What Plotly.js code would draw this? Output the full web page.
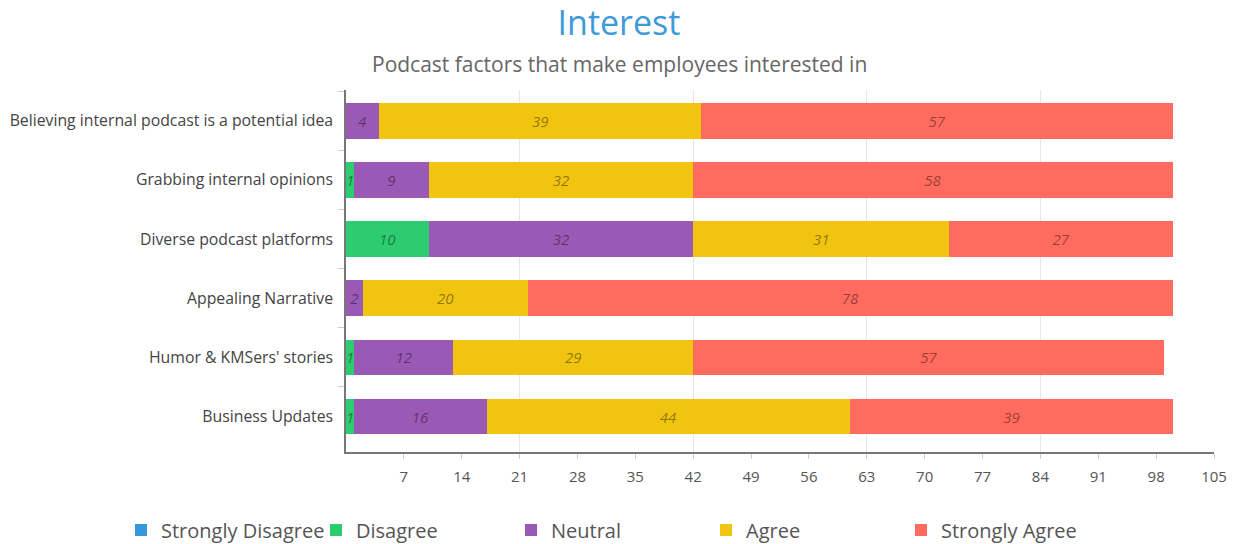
<!DOCTYPE html>
<html>
<head>
<meta charset="utf-8">
<script src="https://cdn.plot.ly/plotly-3.0.1.min.js"></script>
<style>html,body{margin:0;padding:0;background:#fff;}#chart{width:1243px;height:544px;}</style>
</head>
<body>
<div id="chart"></div>
<script>
const categories = [
  "Believing internal podcast is a potential idea",
  "Grabbing internal opinions",
  "Diverse podcast platforms",
  "Appealing Narrative",
  "Humor & KMSers' stories",
  "Business Updates"
];
const seriesNames = ["Strongly Disagree", "Disagree", "Neutral", "Agree", "Strongly Agree"];
const stronglyDisagree = [null, null, null, null, null, null];
const disagree = [null, 1, 10, null, 1, 1];
const neutral = [4, 9, 32, 2, 12, 16];
const agree = [39, 32, 31, 20, 29, 44];
const stronglyAgree = [57, 58, 27, 78, 57, 39];
const xTicks = [7, 14, 21, 28, 35, 42, 49, 56, 63, 70, 77, 84, 91, 98, 105];
const colors = ["#3498db", "#2ecc71", "#9b59b6", "#f1c40f", "#ff6b5e"];

const seriesValues = [stronglyDisagree, disagree, neutral, agree, stronglyAgree];
const traces = seriesValues.map((vals, i) => ({
  type: "bar",
  orientation: "h",
  name: seriesNames[i],
  y: categories,
  x: vals,
  marker: {color: colors[i]},
  text: vals.map(v => v == null ? "" : String(v)),
  textposition: "inside",
  insidetextanchor: "middle",
  textfont: {family: "Open Sans", size: 15, color: "rgba(0,0,0,0.42)", style: "italic"},
  hoverinfo: "x+name",
  cliponaxis: false
}));
// invisible trace for gridlines every 21
traces.push({type: "scatter", x: [0, 105], y: [categories[0], categories[0]], xaxis: "x2", mode: "none", showlegend: false, hoverinfo: "skip"});

const layout = {
  width: 1243, height: 544,
  paper_bgcolor: "#fff", plot_bgcolor: "#fff",
  font: {family: "Open Sans", color: "#555"},
  barmode: "stack",
  bargap: 0.4,
  margin: {l: 346, r: 29, t: 90, b: 92, autoexpand: false},
  title: {
    text: "Interest",
    font: {family: "Open Sans", size: 34, color: "#3d9ad8"},
    x: 0.498, xref: "container", xanchor: "center",
    y: 0.958, yref: "container", yanchor: "middle"
  },
  annotations: [{
    text: "Podcast factors that make employees interested in",
    xref: "paper", yref: "paper",
    x: (619 - 346) / 868, y: 1 + (90 - 64) / 362,
    xanchor: "center", yanchor: "middle",
    showarrow: false,
    font: {family: "Open Sans", size: 21, color: "#666"}
  }],
  xaxis: {
    range: [0, 105],
    tickvals: xTicks,
    showgrid: false,
    zeroline: false,
    showline: true, linecolor: "#777", linewidth: 1.5,
    ticks: "outside", ticklen: 5, tickcolor: "#ccc",
    tickfont: {size: 15, color: "#555"},
    ticklabelstandoff: 5,
    automargin: false,
    fixedrange: true
  },
  xaxis2: {
    range: [0, 105], overlaying: "x", side: "bottom",
    dtick: 21, tick0: 0,
    showgrid: true, gridcolor: "#e6e6e6", gridwidth: 1,
    showticklabels: false, ticks: "", zeroline: false, showline: false
  },
  yaxis: {
    type: "category",
    range: [5.6, -0.52],
    autorange: false,
    tickson: "boundaries",
    ticks: "outside", ticklen: 6, tickcolor: "#ccc",
    showline: true, linecolor: "#777", linewidth: 1.5,
    showgrid: false,
    tickfont: {size: 15.8, color: "#444"},
    ticklabelstandoff: 8,
    automargin: false
  },
  uniformtext: {mode: "show", minsize: 15},
  legend: {
    orientation: "h",
    xref: "paper", yref: "paper",
    x: (121 - 346) / 868, y: -(530 - 452) / 362, xanchor: "left", yanchor: "middle",
    font: {size: 20, color: "#555"},
    entrywidth: 150,
    traceorder: "normal",
    itemclick: false
  },
  showlegend: true
};

Plotly.newPlot("chart", traces, layout, {displayModeBar: false, staticPlot: false});
</script>
</body>
</html>
